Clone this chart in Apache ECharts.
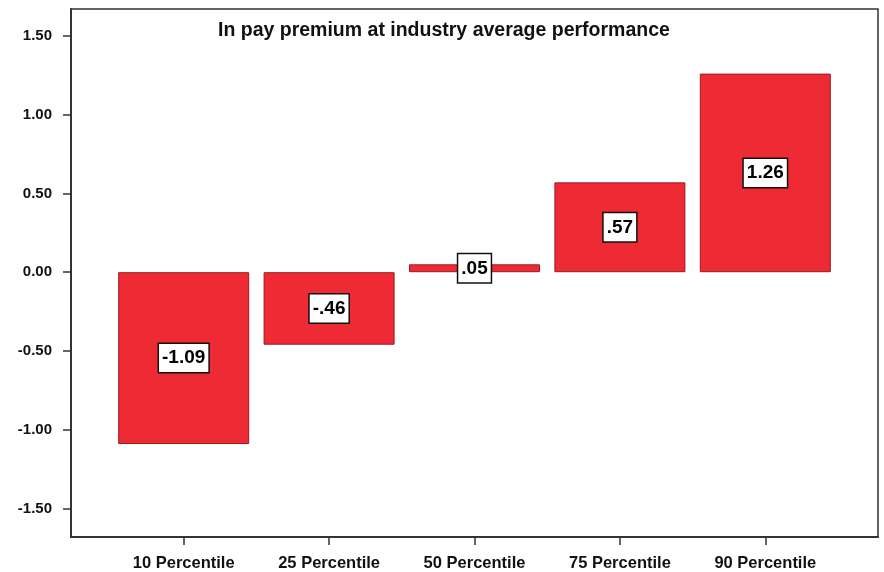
<!DOCTYPE html>
<html>
<head>
<meta charset="utf-8">
<script src="https://cdn.jsdelivr.net/npm/echarts@6/dist/echarts.min.js"></script>
<style>
  html, body { margin: 0; padding: 0; background: #fff; }
  #chart { width: 884px; height: 572px; }
</style>
</head>
<body>
<div id="chart"></div>
<script>
var categories = ['10 Percentile', '25 Percentile', '50 Percentile', '75 Percentile', '90 Percentile'];
var values = [-1.09, -0.46, 0.05, 0.57, 1.26];
var yTicks = [-1.5, -1.0, -0.5, 0, 0.5, 1.0, 1.5];
var xTicks = [0, 1, 2, 3, 4];

var font = 'Arial, "Liberation Sans", sans-serif';
var myChart = echarts.init(document.getElementById('chart'));

var barData = values.map(function (v, i) { return [i, v]; });

var option = {
    animation: false,
    backgroundColor: '#fff',
    title: {
        text: 'In pay premium at industry average performance',
        left: 218,
        top: 21,
        padding: 0,
        textStyle: { fontFamily: font, fontSize: 19.5, fontWeight: 'bold', color: '#111' }
    },
    grid: {
        left: 71, right: 6, top: 9, bottom: 35,
        show: true,
        borderColor: '#333',
        borderWidth: 1.5
    },
    xAxis: {
        type: 'value',
        min: -0.775,
        max: 4.775,
        splitLine: { show: false },
        axisLine: { show: true, onZero: false, lineStyle: { color: '#333', width: 2 } },
        axisTick: { show: true, customValues: xTicks, length: 8, lineStyle: { color: '#333', width: 1.5 } },
        axisLabel: {
            customValues: xTicks,
            margin: 18,
            fontFamily: font, fontSize: 16.5, fontWeight: 'bold', color: '#111',
            formatter: function (v) { return categories[Math.round(v)]; }
        }
    },
    yAxis: {
        type: 'value',
        min: -1.68,
        max: 1.67,
        splitLine: { show: false },
        axisLine: { show: true, onZero: false, lineStyle: { color: '#333', width: 2 } },
        axisTick: { show: true, customValues: yTicks, length: 8, lineStyle: { color: '#333', width: 1.5 } },
        axisLabel: {
            customValues: yTicks,
            margin: 19,
            fontFamily: font, fontSize: 15, fontWeight: 'bold', color: '#111',
            formatter: function (v) { return v.toFixed(2); }
        }
    },
    series: [{
        type: 'bar',
        data: barData,
        barWidth: 131,
        itemStyle: { color: '#ee2a35', borderColor: '#9a1a20', borderWidth: 1 },
        label: {
            show: true,
            position: 'inside',
            fontFamily: font, fontSize: 19, fontWeight: 'bold', color: '#000',
            backgroundColor: '#fff',
            borderColor: '#111', borderWidth: 1.5,
            padding: [5, 3, 4, 3],
            formatter: function (p) {
                return p.value[1].toFixed(2).replace('0.', '.');
            }
        }
    }]
};
myChart.setOption(option);
</script>
</body>
</html>
